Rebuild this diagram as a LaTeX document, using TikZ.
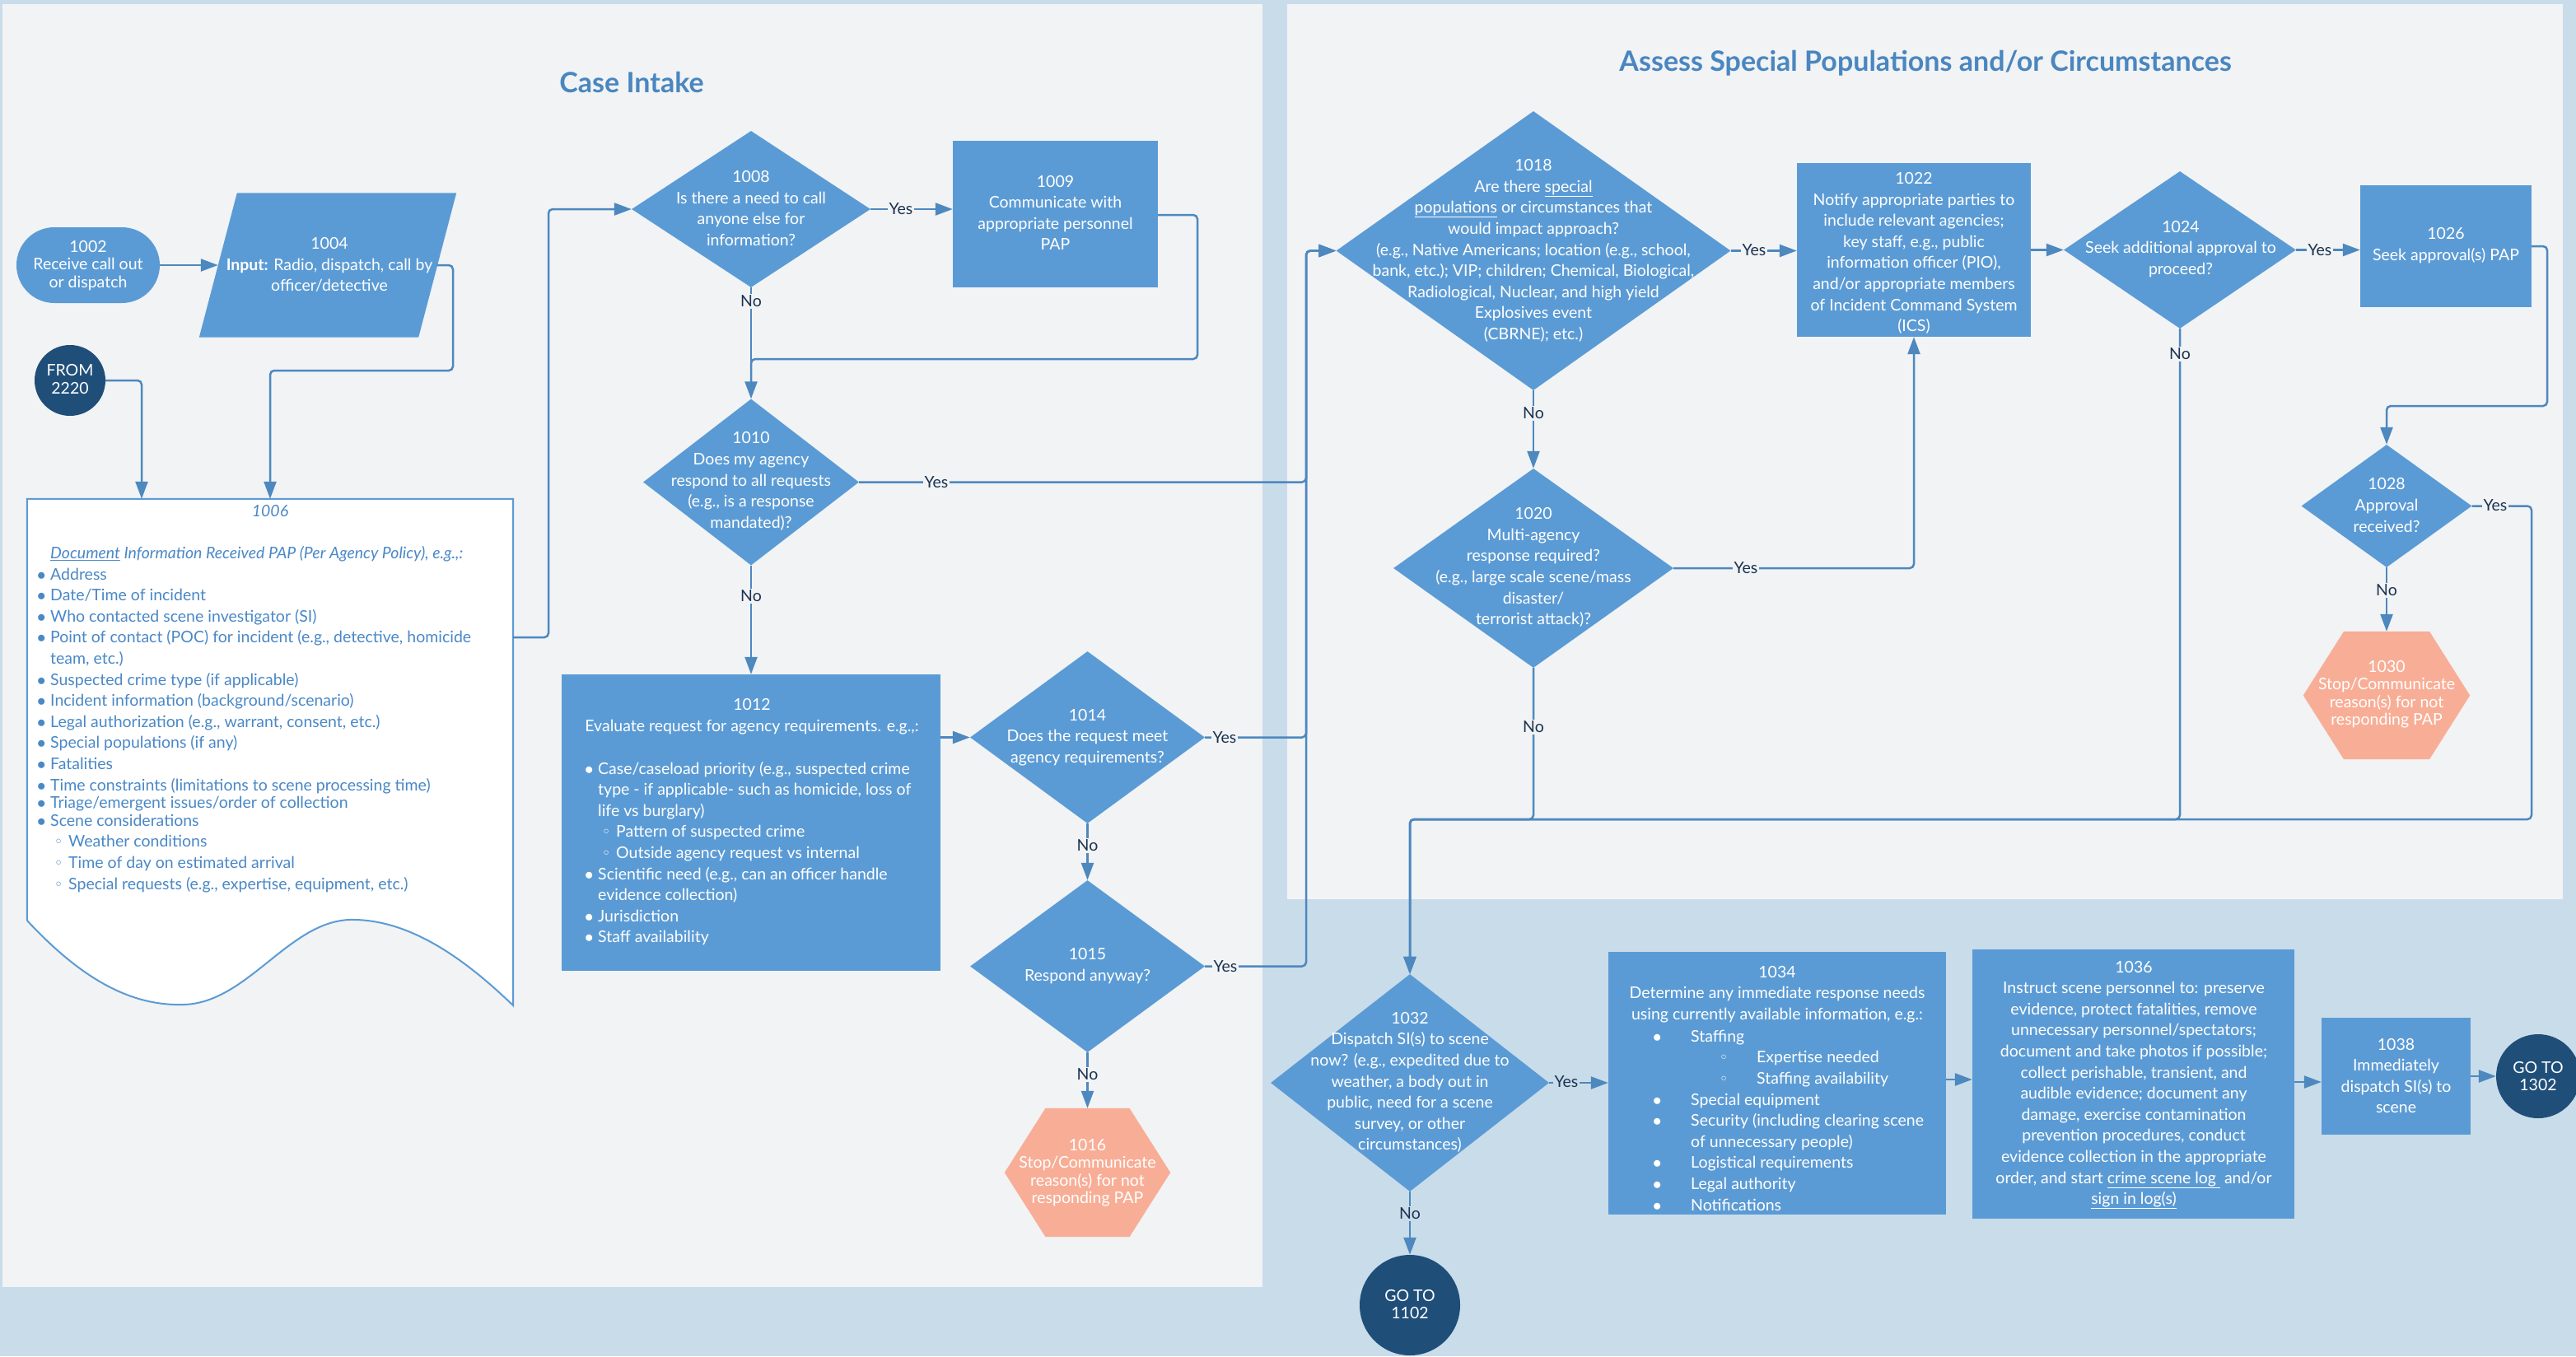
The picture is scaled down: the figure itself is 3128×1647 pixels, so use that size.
\documentclass[tikz,border=0pt]{standalone}
\usepackage{fontspec}
\setmainfont{Lato}
\newfontfamily\dejavu{DejaVu Sans}
\usetikzlibrary{shapes.geometric,arrows.meta,calc}
\definecolor{outerbg}{HTML}{C9DCEA}
\definecolor{panelbg}{HTML}{F1F3F5}
\definecolor{nodeblue}{HTML}{5B9BD5}
\definecolor{lineblue}{HTML}{4D88BF}
\definecolor{navy}{HTML}{1F4E79}
\definecolor{salmon}{HTML}{F8AE96}
\definecolor{labtext}{HTML}{1C3350}
\definecolor{titleblue}{HTML}{4A86BF}
\definecolor{doctext}{HTML}{4A88C7}
\newcommand{\fs}{\fontsize{19.5}{25.6}\selectfont}
\newcommand{\fst}{\fontsize{19.5}{21.5}\selectfont}
\newcommand{\mydot}{\makebox[0pt][c]{$\bullet$}}
\newcommand{\myring}{\makebox[0pt][c]{{\dejavu\fontsize{18}{18}\selectfont ◦}}}
\newcommand{\bul}{\hspace*{2pt}\mydot\hspace*{11pt}}
\newcommand{\subb}{\hspace*{23pt}\myring\hspace*{12pt}}
\newcommand{\bigbul}{\hspace*{2pt}\mydot\hspace*{41pt}}
\newcommand{\bigsub}{\hspace*{83pt}\myring\hspace*{40pt}}
\tikzset{
  boxn/.style={rectangle, fill=nodeblue, inner sep=0pt},
  dian/.style={diamond, fill=nodeblue, inner sep=0pt},
  ghost/.style={rectangle, inner sep=0pt},
  roundn/.style={circle, fill=navy, inner sep=0pt},
  txt/.style={text=white, font=\fs, align=center, inner sep=0pt},
  txtt/.style={text=white, font=\fst, align=center, inner sep=0pt},
  ln/.style={draw=lineblue, line width=2.5pt, rounded corners=5pt},
  arr/.style={ln, -{Triangle[length=21pt,width=15pt]}},
  lab/.style={fill=panelbg, text=labtext, font=\fs, inner sep=1.5pt},
  labo/.style={lab, fill=outerbg},
  title/.style={text=titleblue, font=\fontsize{34}{40}\selectfont\bfseries, inner sep=0pt}
}
\begin{document}
\begin{tikzpicture}[x=1pt,y=-1pt]
\useasboundingbox (0,0) rectangle (3128,1647);
\fill[outerbg] (0,0) rectangle (3128,1647);
\fill[panelbg] (3,5) rectangle (1533,1563);
\fill[panelbg] (1563,5) rectangle (3112,1092);

\node[title] (ti1) at (767,100) {Case Intake};
\node[title] (ti2) at (2338,77) {Assess Special Populations and/or Circumstances};

% ---------- shapes ----------
\node[rectangle, rounded corners=46pt, fill=nodeblue, minimum width=174pt, minimum height=92pt, inner sep=0pt] (n1002) at (107,322) {};
\node[ghost, minimum width=266pt, minimum height=175pt] (n1004) at (398,322) {};
\fill[nodeblue] ($(n1004.north west)+(23,0)$) -- ($(n1004.north east)+(23,0)$) -- ($(n1004.south east)+(-23,0)$) -- ($(n1004.south west)+(-23,0)$) -- cycle;
\node[roundn, minimum size=86pt] (f2220) at (85,462) {};
\node[ghost, minimum width=590pt, minimum height=615pt] (n1006) at (328,913.5) {};
\path[fill=white, draw=nodeblue, line width=2pt] (n1006.north west) -- (n1006.north east) -- (n1006.south east)
  .. controls (570,1170) and (500,1115) .. (424,1117)
  .. controls (350,1120) and (300,1218) .. (223,1220)
  .. controls (160,1222) and (100,1190) .. (33,1118) -- cycle;
\node[dian, minimum width=290pt, minimum height=190pt] (n1008) at (912,254) {};
\node[boxn, minimum width=249pt, minimum height=178pt] (n1009) at (1281.5,260) {};
\node[dian, minimum width=262pt, minimum height=202pt] (n1010) at (912,585.5) {};
\node[boxn, minimum width=460pt, minimum height=360pt] (n1012) at (912,999) {};
\node[dian, minimum width=285pt, minimum height=209pt] (n1014) at (1320.5,895.5) {};
\node[dian, minimum width=285pt, minimum height=209pt] (n1015) at (1320.5,1173.5) {};
\node[ghost, minimum width=201pt, minimum height=156pt] (n1016) at (1320.5,1424) {};
\fill[salmon] ($(n1016.north)+(-51,0)$) -- ($(n1016.north)+(51,0)$) -- (n1016.east) -- ($(n1016.south)+(51,0)$) -- ($(n1016.south)+(-51,0)$) -- (n1016.west) -- cycle;
\node[dian, minimum width=479pt, minimum height=339pt] (n1018) at (1862,304.5) {};
\node[dian, minimum width=340pt, minimum height=242pt] (n1020) at (1862,690) {};
\node[boxn, minimum width=284pt, minimum height=211pt] (n1022) at (2324,303.5) {};
\node[dian, minimum width=282pt, minimum height=191pt] (n1024) at (2647,303.5) {};
\node[boxn, minimum width=208pt, minimum height=148pt] (n1026) at (2970,299) {};
\node[dian, minimum width=207pt, minimum height=149pt] (n1028) at (2898,614.5) {};
\node[ghost, minimum width=202pt, minimum height=155pt] (n1030) at (2898,844.5) {};
\fill[salmon] ($(n1030.north)+(-52,0)$) -- ($(n1030.north)+(52,0)$) -- (n1030.east) -- ($(n1030.south)+(52,0)$) -- ($(n1030.south)+(-52,0)$) -- (n1030.west) -- cycle;
\node[dian, minimum width=338pt, minimum height=264pt] (n1032) at (1712,1315) {};
\node[roundn, minimum size=122pt] (g1102) at (1712,1585) {};
\node[boxn, minimum width=410pt, minimum height=319pt] (n1034) at (2158,1315.5) {};
\node[boxn, minimum width=391pt, minimum height=327pt] (n1036) at (2590.5,1316.5) {};
\node[boxn, minimum width=181pt, minimum height=142pt] (n1038) at (2909.5,1307) {};
\node[roundn, minimum size=102pt] (g1302) at (3082,1307) {};

% ---------- texts ----------
\node[txtt] (t1002) at (107,322.5) {1002\\Receive call out\\or dispatch};
\node[txt] (t1004) at (400,321.5) {1004\\\textbf{Input:} Radio, dispatch, call by\\officer/detective};
\node[txtt] (t2220) at (85,460.5) {FROM\\2220};
\node[txt, text=doctext] (t1006n) at (328,621) {\textit{1006}};
\node[txt, text=doctext, align=left, anchor=west] (t1006) at (48,873.5) {%
\hspace*{13pt}\textit{\underline{Document} Information Received PAP (Per Agency Policy), e.g.,:}\\
\bul Address\\
\bul Date/Time of incident\\
\bul Who contacted scene investigator (SI)\\
\bul Point of contact (POC) for incident (e.g., detective, homicide\\
\hspace*{13pt}team, etc.)\\
\bul Suspected crime type (if applicable)\\
\bul Incident information (background/scenario)\\
\bul Legal authorization (e.g., warrant, consent, etc.)\\
\bul Special populations (if any)\\
\bul Fatalities\\
\bul Time constraints (limitations to scene processing time)\\[-4pt]
\bul Triage/emergent issues/order of collection\\[-4pt]
\bul Scene considerations\\
\subb Weather conditions\\
\subb Time of day on estimated arrival\\
\subb Special requests (e.g., expertise, equipment, etc.)};
\node[txt] (t1008) at (912,253) {1008\\Is there a need to call\\anyone else for\\information?};
\node[txt] (t1009) at (1281.5,258.5) {1009\\Communicate with\\appropriate personnel\\PAP};
\node[txt] (t1010) at (912,584.5) {1010\\Does my agency\\respond to all requests\\(e.g., is a response\\mandated)?};
\node[txt] (t1012a) at (913,870) {1012\\Evaluate request for agency requirements. e.g.,:};
\node[txt, align=left, anchor=west] (t1012b) at (713,1036.5) {%
\bul Case/caseload priority (e.g., suspected crime\\
\hspace*{13pt}type - if applicable- such as homicide, loss of\\
\hspace*{13pt}life vs burglary)\\
\subb Pattern of suspected crime\\
\subb Outside agency request vs internal\\
\bul Scientific need (e.g., can an officer handle\\
\hspace*{13pt}evidence collection)\\
\bul Jurisdiction\\
\bul Staff availability};
\node[txt] (t1014) at (1320.5,895.5) {1014\\Does the request meet\\agency requirements?};
\node[txt] (t1015) at (1320.5,1173) {1015\\Respond anyway?};
\node[txtt] (t1016) at (1320.5,1424) {1016\\Stop/Communicate\\reason(s) for not\\responding PAP};
\node[txt] (t1018) at (1862,304.5) {1018\\Are there \underline{special}\\\underline{populations} or circumstances that\\would impact approach?\\(e.g., Native Americans; location (e.g., school,\\bank, etc.); VIP; children; Chemical, Biological,\\Radiological, Nuclear, and high yield\\Explosives event\\(CBRNE); etc.)};
\node[txt] (t1020) at (1862,689) {1020\\Multi-agency\\response required?\\(e.g., large scale scene/mass\\disaster/\\terrorist attack)?};
\node[txt] (t1022) at (2324,307.5) {1022\\Notify appropriate parties to\\include relevant agencies;\\key staff, e.g., public\\information officer (PIO),\\and/or appropriate members\\of Incident Command System\\(ICS)};
\node[txt] (t1024) at (2648,302.5) {1024\\Seek additional approval to\\proceed?};
\node[txt] (t1026) at (2970,298) {1026\\Seek approval(s) PAP};
\node[txt] (t1028) at (2898,613.5) {1028\\Approval\\received?};
\node[txtt] (t1030) at (2898,843) {1030\\Stop/Communicate\\reason(s) for not\\responding PAP};
\node[txt] (t1032) at (1712,1314.5) {1032\\Dispatch SI(s) to scene\\now? (e.g., expedited due to\\weather, a body out in\\public, need for a scene\\survey, or other\\circumstances)};
\node[txtt] (t1102) at (1712,1584) {GO TO\\1102};
\node[txt] (t1034a) at (2158,1207.5) {1034\\Determine any immediate response needs\\using currently available information, e.g.:};
\node[txt, align=left, anchor=west] (t1034b) at (2010,1360.5) {%
\bigbul Staffing\\
\bigsub Expertise needed\\
\bigsub Staffing availability\\
\bigbul Special equipment\\
\bigbul Security (including clearing scene\\
\hspace*{43pt}of unnecessary people)\\
\bigbul Logistical requirements\\
\bigbul Legal authority\\
\bigbul Notifications};
\node[txt] (t1036) at (2591,1317.5) {1036\\Instruct scene personnel to: preserve\\evidence, protect fatalities, remove\\unnecessary personnel/spectators;\\document and take photos if possible;\\collect perishable, transient, and\\audible evidence; document any\\damage, exercise contamination\\prevention procedures, conduct\\evidence collection in the appropriate\\order, and start \underline{crime scene log\ } and/or\\\underline{sign in log(s)}};
\node[txt] (t1038) at (2909.5,1306.5) {1038\\Immediately\\dispatch SI(s) to\\scene};
\node[txtt] (t1302) at (3082,1307) {GO TO\\1302};

% ---------- connectors ----------
\draw[arr] (n1002.east) -- (n1004.west);
\draw[arr] (f2220.east) -| (172,0 |- n1006.north);
\draw[arr] (n1004.east) -- (550,0 |- n1004.east) |- (n1006.north |- 0,450) -- (n1006.north);
\draw[arr] (n1006.east |- 0,774) -- (666,774) |- (n1008.west);
\draw[arr] (n1008.east) -- (n1009.west |- n1008.east);
\draw[arr] (n1008.south) -- (n1010.north);
\draw[ln] (n1009.east |- 0,261) -- (1454,261) |- (n1008.south |- 0,436) -- (n1008.south |- 0,470);
\draw[arr] (n1010.east) -- (1586,0 |- n1010.east) |- (n1018.west);
\draw[arr] (n1014.east) -- (1586,0 |- n1014.east) |- (n1018.west);
\draw[arr] (n1015.east) -- (1586,0 |- n1015.east) |- (n1018.west);
\draw[arr] (n1010.south) -- (n1012.north);
\draw[arr] (n1012.east |- n1014.west) -- (n1014.west);
\draw[arr] (n1014.south) -- (n1015.north);
\draw[arr] (n1015.south) -- (n1016.north);
\draw[arr] (n1018.east) -- (n1022.west |- n1018.east);
\draw[arr] (n1018.south) -- (n1020.north);
\draw[arr] (n1020.east) -| (n1022.south);
\draw[arr] (n1022.east |- n1024.west) -- (n1024.west);
\draw[arr] (n1024.east) -- (n1026.west |- n1024.east);
\draw[arr] (n1026.east) -- (3093,0 |- n1026.east) |- (n1028.north |- 0,493) -- (n1028.north);
\draw[arr] (n1028.south) -- (n1030.north);
\draw[arr] (n1028.east) -- (3074,0 |- n1028.east) |- (n1032.north |- 0,995) -- (n1032.north);
\draw[arr] (n1020.south) |- (n1032.north |- 0,995) -- (n1032.north);
\draw[arr] (n1024.south) |- (n1032.north |- 0,995) -- (n1032.north);
\draw[arr] (n1032.east) -- (n1034.west |- n1032.east);
\draw[arr] (n1032.south) -- (g1102.north);
\draw[arr] (n1034.east |- 0,1311) -- (n1036.west |- 0,1311);
\draw[arr] (n1036.east |- 0,1314) -- (n1038.west |- 0,1314);
\draw[arr] (n1038.east) -- (g1302.west);

% ---------- labels ----------
\node[lab] (l1) at (1094,254) {Yes};
\node[lab] (l2) at (912,366) {No};
\node[lab] (l3) at (1137,586) {Yes};
\node[lab] (l4) at (912,724) {No};
\node[lab] (l5) at (1487,896) {Yes};
\node[lab] (l6) at (1320.5,1027) {No};
\node[lab] (l7) at (1488,1174) {Yes};
\node[lab] (l8) at (1320.5,1305) {No};
\node[lab] (l9) at (2130,304) {Yes};
\node[lab] (l10) at (1862,502) {No};
\node[lab] (l11) at (2120,690) {Yes};
\node[lab] (l12) at (1862,883) {No};
\node[lab] (l13) at (2817,304) {Yes};
\node[lab] (l14) at (2647,430) {No};
\node[lab] (l15) at (3030,614) {Yes};
\node[lab] (l16) at (2898,717) {No};
\node[labo] (l17) at (1902,1314) {Yes};
\node[labo] (l18) at (1712,1474) {No};
\end{tikzpicture}
\end{document}
